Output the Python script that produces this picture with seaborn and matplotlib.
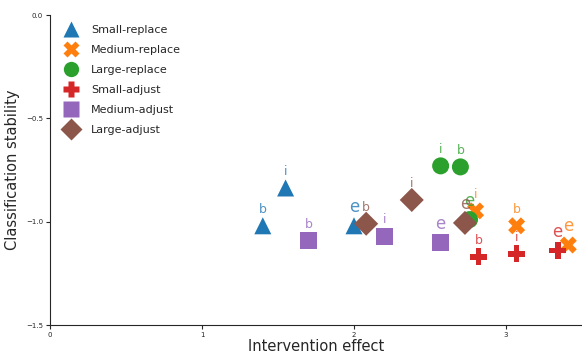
import pandas as pd
import seaborn as sns
import matplotlib.pyplot as plt

groups = ["Small-replace", "Medium-replace", "Large-replace",
          "Small-adjust", "Medium-adjust", "Large-adjust"]
tags = ["b", "i", "e"]
effect_b = [1.40, 3.07, 2.70, 2.82, 1.70, 2.08]
effect_i = [1.55, 2.80, 2.57, 3.07, 2.20, 2.38]
effect_e = [2.00, 3.41, 2.76, 3.34, 2.57, 2.73]
stab_b = [-1.02, -1.02, -0.735, -1.17, -1.093, -1.01]
stab_i = [-0.837, -0.948, -0.73, -1.156, -1.07, -0.895]
stab_e = [-1.02, -1.113, -0.99, -1.14, -1.103, -1.006]

palette = ["#1f77b4", "#ff7f0e", "#2ca02c", "#d62728", "#9467bd", "#8c564b"]
markers = ["^", "X", "o", "P", "s", "D"]

rows = []
for k, g in enumerate(groups):
    for t, xs, ys in zip(tags, (effect_b, effect_i, effect_e), (stab_b, stab_i, stab_e)):
        rows.append({"group": g, "tag": t, "effect": xs[k], "stability": ys[k]})
df = pd.DataFrame(rows)

sns.set_style("ticks")
fig, ax = plt.subplots(figsize=(5.82, 3.54), dpi=100)
fig.subplots_adjust(left=50 / 582, right=1.0, top=1 - 15 / 354, bottom=1 - 325 / 354)

sns.scatterplot(data=df, x="effect", y="stability", hue="group", style="group",
                hue_order=groups, style_order=groups,
                palette=dict(zip(groups, palette)), markers=dict(zip(groups, markers)),
                s=150, edgecolor="none", ax=ax)

colors = dict(zip(groups, palette))
for _, r in df.iterrows():
    size = 12 if r["tag"] == "e" else 9
    ax.annotate(r["tag"], (r["effect"], r["stability"]), xytext=(0, 7),
                textcoords="offset points", ha="center", va="bottom",
                fontsize=size, color=colors[r["group"]], alpha=0.8)

ax.set_xlim(0, 3.5)
ax.set_ylim(-1.5, 0)
ax.set_xticks([0, 1, 2, 3])
ax.set_yticks([-1.5, -1.0, -0.5, 0.0])
ax.tick_params(labelsize=5, length=3, pad=2)
ax.set_xlabel("Intervention effect", fontsize=10.5, labelpad=1)
ax.set_ylabel("Classification stability", fontsize=10.5, labelpad=4)
sns.despine(ax=ax)

leg = ax.legend(loc="upper left", frameon=False, fontsize=8, title=None,
                markerscale=0.9, labelspacing=0.9, borderaxespad=0.5)

fig.savefig("out.png", dpi=100)
